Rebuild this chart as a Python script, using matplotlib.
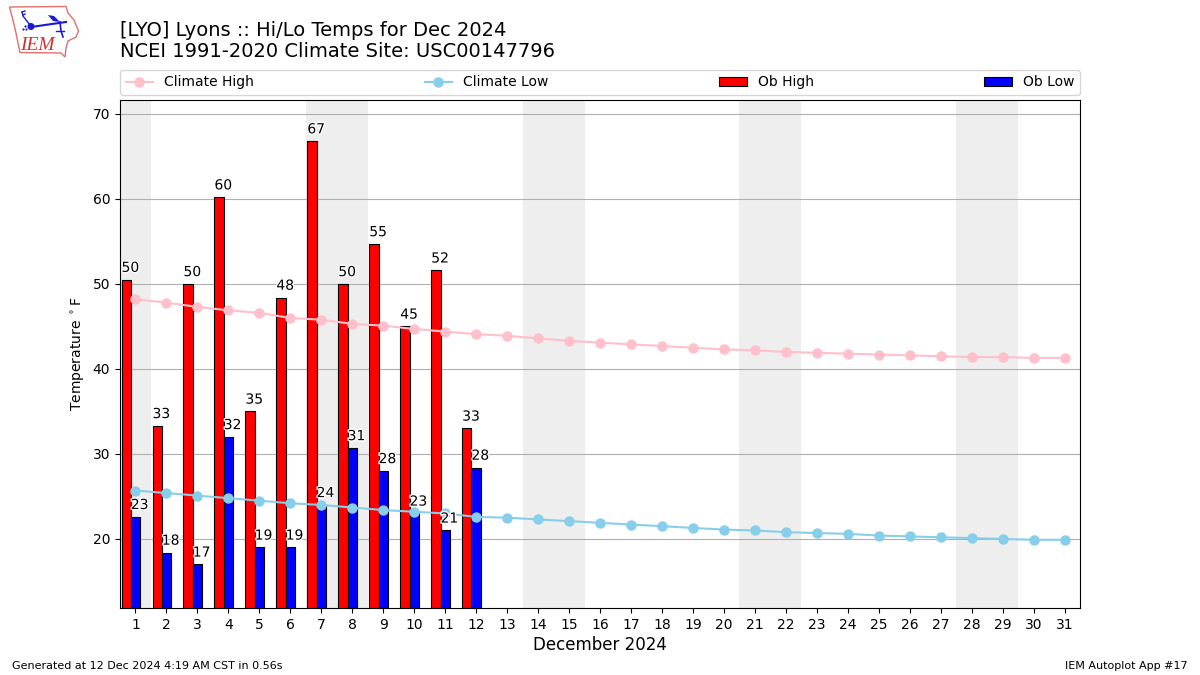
import matplotlib
matplotlib.use("Agg")
import matplotlib.pyplot as plt
import matplotlib.patheffects as pe
from matplotlib.lines import Line2D
from matplotlib.patches import Patch, Polygon, Circle
import numpy as np

days = list(range(1, 32))
climate_high = [48.2,47.8,47.3,46.9,46.6,46.0,45.8,45.3,45.1,44.7,44.4,44.1,43.9,43.6,43.3,43.1,42.9,42.7,42.5,42.3,42.2,42.0,41.9,41.8,41.7,41.6,41.5,41.4,41.4,41.3,41.3]
climate_low = [25.7,25.4,25.1,24.8,24.5,24.2,24.0,23.7,23.4,23.2,23.0,22.6,22.5,22.3,22.1,21.9,21.7,21.5,21.3,21.1,21.0,20.8,20.7,20.6,20.4,20.3,20.2,20.1,20.0,19.9,19.9]
ob_high = [50.5,33.3,50.0,60.2,35.0,48.4,66.8,50.0,54.7,45.0,51.6,33.0]
ob_low = [22.6,18.4,17.0,32.0,19.0,19.0,24.0,30.7,28.0,23.0,21.0,28.4]
high_labels = [50,33,50,60,35,48,67,50,55,45,52,33]
low_labels = [23,18,17,32,19,19,24,31,28,23,21,28]
weekend_spans = [(0.5,1.5),(6.5,8.5),(13.5,15.5),(20.5,22.5),(27.5,29.5)]
title_lines = "[LYO] Lyons :: Hi/Lo Temps for Dec 2024\nNCEI 1991-2020 Climate Site: USC00147796"
xlabel = "December 2024"
ylabel = r"Temperature $^\circ$F"
footer_left = "Generated at 12 Dec 2024 4:19 AM CST in 0.56s"
footer_right = "IEM Autoplot App #17"
logo_text = "IEM"
logo_outline = [(9.5,7),(66,6.5),(68,13),(74,20),(78.5,31),(76,37),(68,41),(66,48),(65,57),(61,53),(20,52.5),(18,43),(16,33),(13,20)]

fig = plt.figure(figsize=(12, 6.75), dpi=100)
ax = fig.add_axes([0.1, 0.0993, 0.8, 0.7526])
ax.set_zorder(2)

for a, b in weekend_spans:
    ax.axvspan(a, b, color="#eeeeee", lw=0, zorder=0)

width = 0.3
hx = [d - width for d in days[:len(ob_high)]]
lx = [d for d in days[:len(ob_low)]]
ax.bar(hx, ob_high, width=width, color="red", edgecolor="black", linewidth=0.8, zorder=2)
ax.bar(lx, ob_low, width=width, color="blue", edgecolor="black", linewidth=0.8, zorder=2)
ax.plot(days, climate_high, "-o", color="pink", ms=6.5, lw=1.5, zorder=3)
ax.plot(days, climate_low, "-o", color="skyblue", ms=6.5, lw=1.5, zorder=3)

halo = [pe.withStroke(linewidth=2, foreground="white")]
for x, y, t in zip(hx, ob_high, high_labels):
    ax.annotate(str(t), (x - width / 2, y), xytext=(0, 3.5), textcoords="offset points",
                ha="left", va="bottom", fontsize=10, zorder=4, path_effects=halo)
for x, y, t in zip(lx, ob_low, low_labels):
    ax.annotate(str(t), (x - width / 2, y), xytext=(0, 3.5), textcoords="offset points",
                ha="left", va="bottom", fontsize=10, zorder=4, path_effects=halo)

ax.set_xlim(0.5, 31.5)
ax.set_ylim(11.88, 71.65)
ax.set_xticks(days)
ax.set_yticks(range(20, 71, 10))
ax.grid(axis="y", color="#b0b0b0", lw=0.8, zorder=1)
ax.set_axisbelow(True)
ax.tick_params(labelsize=10)
ax.set_xlabel(xlabel, fontsize=12, labelpad=3)
ax.set_ylabel(ylabel, fontsize=10)

fig.text(0.1, 0.9395, title_lines, fontsize=14, va="center", ha="left", linespacing=1.15)
fig.text(0.01, 0.0095, footer_left, fontsize=8, va="baseline")
fig.text(0.99, 0.0095, footer_right, fontsize=8, ha="right", va="baseline")

handles = [
    Line2D([], [], color="pink", marker="o", ms=6.5, lw=1.5),
    Line2D([], [], color="skyblue", marker="o", ms=6.5, lw=1.5),
    Patch(facecolor="red", edgecolor="black", lw=0.8),
    Patch(facecolor="blue", edgecolor="black", lw=0.8),
]
names = ["Climate High", "Climate Low", "Ob High", "Ob Low"]
ax.legend(handles, names, loc="lower left", bbox_to_anchor=(0, 1.0098, 1, 0.05), ncol=4,
          mode="expand", fontsize=10, borderaxespad=0)

# logo, in figure pixel coordinates
lg = fig.add_axes([0, 0, 1, 1], facecolor="none")
lg.set_xlim(0, 1200)
lg.set_ylim(675, 0)
lg.axis("off")
lg.add_patch(Polygon(logo_outline, closed=True, fill=False, edgecolor="#e07070", lw=1.0))
blue = "#1a1ad0"
lg.plot([31, 66], [27, 22], color=blue, lw=1.5)
lg.add_patch(Circle((31, 26.5), 2.8, color=blue))
lg.plot([30, 23, 22], [25, 16, 12], color=blue, lw=1.0)
lg.plot([22, 25], [12, 11], color=blue, lw=1.0)
lg.plot([23, 25], [15, 14], color=blue, lw=1.0)
lg.plot([60, 61, 63], [22, 31, 37], color=blue, lw=1.2)
lg.add_patch(Polygon([(48, 15), (54, 16), (60, 22), (53, 21)], closed=True, color=blue, lw=0))
lg.plot([56, 64], [31, 31], color=blue, lw=1.0)
lg.scatter([23, 26, 24.5], [29, 29, 26], s=2.5, color=blue, lw=0)
lg.text(20, 45.5, logo_text, color="#d03030", fontsize=14, family="Liberation Serif",
        style="italic", va="center", ha="left")

fig.savefig("out.png", dpi=100)
